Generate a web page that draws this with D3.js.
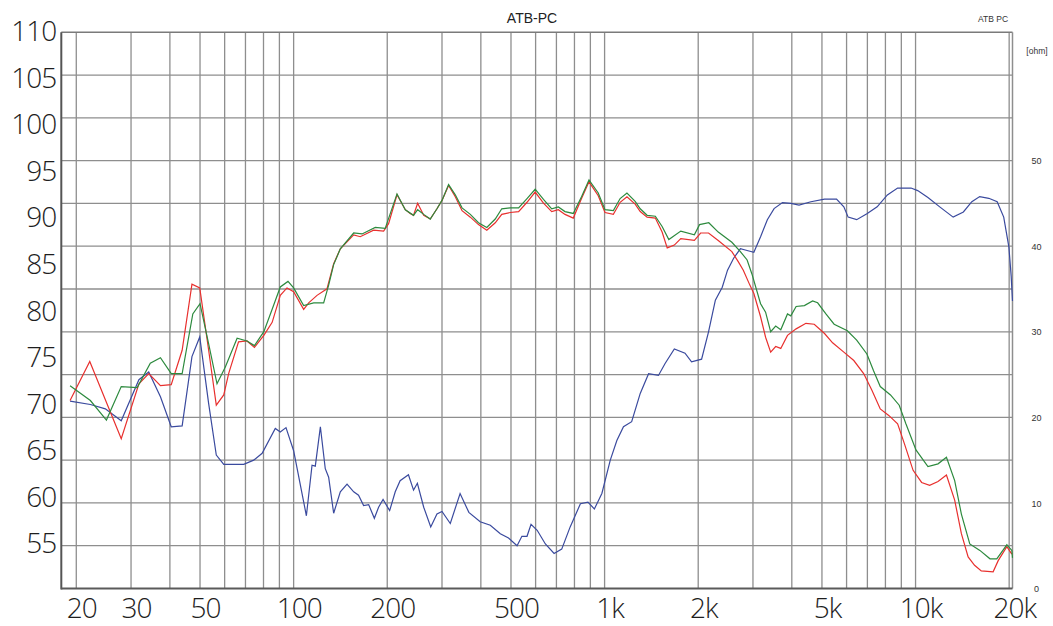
<!DOCTYPE html>
<html><head><meta charset="utf-8">
<script src="https://cdn.jsdelivr.net/npm/d3@7"></script>
<style>html,body{margin:0;padding:0;background:#fff;}svg{display:block;}</style>
</head><body>
<svg id="chart" width="1053" height="626"></svg>
<script>
// ---- data ----
const chartTitle = "ATB-PC";
const cornerLabel = "ATB PC";
const ohmUnit = "[ohm]";
const freqTickValues = [20, 30, 50, 100, 200, 500, 1000, 2000, 5000, 10000, 20000];
const freqTickLabels = ["20", "30", "50", "100", "200", "500", "1k", "2k", "5k", "10k", "20k"];
const freqGridValues = [20,30,40,50,60,70,80,90,100,200,300,400,500,600,700,800,900,1000,2000,3000,4000,5000,6000,7000,8000,9000,10000,20000];
const dbTickValues = [55, 60, 65, 70, 75, 80, 85, 90, 95, 100, 105, 110];
const ohmTickValues = [0, 10, 20, 30, 40, 50];
const ohmGridValues = [5,10,15,20,25,30,35,40,45,50,55,60];

const redFreq = [19.1,22.1,27.9,31.8,34.2,37.3,40.4,43.8,47.1,49.9,53.3,56.4,59.6,61.8,66.5,70.8,74.8,80.2,85.3,90.6,95.2,100,107.7,111.8,118.9,128,134.5,141.3,156,163.8,180.8,194.7,202,215,228.6,237,243,250.5,262,275,289,300,315,331,348,370,393,418,445,467,497,529,563,598,636,676,710,746,793,843,891,954,1003,1067,1122,1180,1254,1302,1370,1456,1531,1590,1676,1758,1944,2036,2159,2320,2566,2693,2793,2932,3020,3174,3294,3420,3550,3686,3874,4130,4441,4722,5097,5410,5880,6330,6810,7238,7700,8200,8756,9200,9820,10460,11100,11810,12570,13360,14040,14760,15480,16270,17760,18440,19660,20400];
const redDb = [70.3,74.5,66.2,72.1,73.2,71.9,72.0,75.7,82.8,82.4,75.7,69.8,70.9,73.2,76.6,76.7,76.0,77.3,78.7,81.6,82.4,82.0,80.1,80.8,81.6,82.3,85.0,86.6,88.1,87.9,88.6,88.5,89.3,92.4,90.8,90.4,90.2,91.5,90.2,89.8,90.9,91.8,93.4,92.2,90.7,90.0,89.2,88.6,89.4,90.3,90.5,90.6,91.6,92.7,91.5,90.6,90.8,90.3,89.9,92.0,93.8,92.3,90.5,90.3,91.6,92.2,91.4,90.6,90.0,89.9,88.4,86.7,87.0,87.7,87.5,88.3,88.3,87.5,86.3,85.2,84.3,82.7,81.8,79.3,77.1,75.5,76.1,75.9,77.3,78.0,78.6,78.5,77.5,76.5,75.5,74.6,73.2,71.4,69.4,68.7,67.8,65.7,62.8,61.5,61.2,61.6,62.3,59.6,56.0,53.5,52.6,52.0,51.9,53.1,54.6,53.8];

const greenFreq = [19.1,22.2,25,27.9,31.4,34.6,37.3,40.4,43.8,47.4,50,53.3,56.7,60.3,65.8,70.8,74.8,80.2,85.3,90.6,95.9,100,107.7,116,124.9,129.6,134.5,141.3,156,166,183,197,215,228.6,243,250.5,262,275,289,300,315,331,348,370,393,418,445,467,497,529,563,598,636,676,710,746,793,843,891,954,1003,1067,1122,1180,1254,1302,1370,1456,1531,1609,1758,1944,2020,2163,2320,2566,2733,2873,2977,3174,3294,3420,3550,3686,3874,3970,4130,4390,4666,4843,5149,5472,6036,6466,6975,7327,7700,8306,8860,9310,10030,10960,11810,12570,13360,14040,14940,16100,17350,18250,19660,20400,20500];
const greenDb = [71.9,70.3,68.2,71.8,71.7,74.3,74.9,73.2,73.2,79.6,80.7,76.4,72.1,73.9,77.0,76.7,76.2,77.7,80.1,82.5,83.1,82.4,80.5,80.8,80.8,82.7,84.9,86.6,88.3,88.2,88.9,88.8,92.5,90.8,90.2,90.8,90.3,89.8,90.9,91.8,93.5,92.4,91.0,90.3,89.4,88.9,89.8,90.9,91.0,91.0,92.0,93.0,91.9,90.9,91.1,90.6,90.4,92.2,94.0,92.6,90.8,90.7,92.0,92.6,91.7,90.9,90.2,90.1,89.0,87.6,88.5,88.1,89.2,89.4,88.4,87.3,86.3,85.4,83.9,80.7,79.8,77.7,78.3,77.9,79.6,79.4,80.4,80.5,81.0,80.8,79.6,78.5,77.8,76.8,75.3,73.5,71.8,70.9,69.8,67.8,65.0,63.2,63.5,64.2,61.7,58.1,54.9,54.2,53.3,53.3,54.8,54.2,53.4];

const blueFreq = [19.1,22.2,24.8,27.9,31.8,34.2,37.3,40.4,43.8,47.1,49.9,53.3,56.4,59.6,69.1,74.4,79.2,87.3,90.6,94.5,100,109.9,114.6,117.4,121.9,126.4,129.6,134.5,141.3,148.5,156,161.7,167.9,174.3,181.8,187.6,193.9,203.6,212.2,220,234,243,250,262,276,289,300,319,343,366,398,429,462,491,523,542,563,580,607,645,688,728,775,836,884,927,980,1043,1095,1150,1222,1302,1385,1490,1565,1676,1814,1904,2051,2159,2271,2390,2485,2600,2733,2873,3020,3174,3337,3508,3733,3970,4220,4608,5097,5570,5880,6070,6466,6975,7525,8117,8756,9670,10160,10960,11960,13210,14250,15170,16080,17200,18300,19210,19960,20300,20500];
const blueOhm = [21.9,21.5,21.0,19.6,24.4,25.3,22.4,18.9,19.0,27.1,29.4,21.6,15.6,14.5,14.5,15.0,15.8,18.7,18.3,18.8,16.1,8.5,14.4,14.3,18.9,14.0,13.0,8.8,11.3,12.2,11.3,10.9,9.7,9.8,8.2,9.5,10.4,9.1,11.3,12.6,13.3,11.5,12.3,9.5,7.2,8.7,9.0,7.6,11.1,8.9,7.8,7.4,6.4,5.9,5.0,6.1,6.1,7.5,6.8,5.2,4.1,4.6,7.2,9.9,10.1,9.3,11.1,15.0,17.3,18.9,19.5,22.8,25.1,24.9,26.3,28.0,27.5,26.5,26.8,30.0,33.7,35.2,37.2,38.6,39.7,39.5,39.3,41.1,43.1,44.4,45.1,45.0,44.8,45.2,45.5,45.5,44.6,43.4,43.1,43.8,44.6,46.0,46.8,46.8,46.5,45.7,44.6,43.4,44.0,45.2,45.8,45.6,45.2,43.4,39.9,36.5,33.6];

// ---- layout ----
const svg = d3.select("#chart");
const pLeft = 61.3, pRight = 1012.5, pTop = 32.3, pBottom = 588.5;

const x = d3.scaleLog().domain([17.9, 20500]).range([pLeft, pRight]);
const yDb = d3.scaleLinear().domain([50, 110]).range([589.5, 31]);
const yOhm = d3.scaleLinear().domain([0, 65]).range([pBottom, pTop]);

svg.append("rect").attr("width", 1053).attr("height", 626).attr("fill", "#fff");

// grid (horizontal on impedance scale)
const grid = svg.append("g");
grid.selectAll("line.h").data(ohmGridValues).join("line").attr("class", "h")
  .attr("x1", pLeft).attr("x2", pRight)
  .attr("y1", d => yOhm(d)).attr("y2", d => yOhm(d))
  .attr("stroke", "#8e8e8e").attr("stroke-width", 1.3);
grid.selectAll("line.v").data(freqGridValues).join("line").attr("class", "v")
  .attr("x1", d => x(d)).attr("x2", d => x(d))
  .attr("y1", pTop).attr("y2", pBottom)
  .attr("stroke", "#8e8e8e").attr("stroke-width", 1.3);

// frame
svg.append("line").attr("x1", pLeft).attr("x2", pRight).attr("y1", pTop).attr("y2", pTop).attr("stroke", "#7a7a7a").attr("stroke-width", 1.5);
svg.append("line").attr("x1", pRight).attr("x2", pRight).attr("y1", pTop).attr("y2", pBottom).attr("stroke", "#8e8e8e").attr("stroke-width", 1.5);
svg.append("line").attr("x1", pLeft).attr("x2", pLeft).attr("y1", pTop).attr("y2", pBottom + 1).attr("stroke", "#555").attr("stroke-width", 2);
svg.append("line").attr("x1", pLeft).attr("x2", pRight).attr("y1", pBottom).attr("y2", pBottom).attr("stroke", "#5a5a5a").attr("stroke-width", 2);

// curves
svg.append("clipPath").attr("id", "plotclip").append("rect")
  .attr("x", pLeft).attr("y", pTop).attr("width", pRight - pLeft + 1).attr("height", pBottom - pTop);
const plot = svg.append("g").attr("clip-path", "url(#plotclip)");

const lineDb = d3.line().x(d => x(d[0])).y(d => yDb(d[1]));
const lineOhm = d3.line().x(d => x(d[0])).y(d => yOhm(d[1]));

plot.append("path").datum(blueFreq.map((f, i) => [f, blueOhm[i]]))
  .attr("d", lineOhm).attr("fill", "none").attr("stroke", "#3a4a9e").attr("stroke-width", 1.2);
plot.append("path").datum(redFreq.map((f, i) => [f, redDb[i]]))
  .attr("d", lineDb).attr("fill", "none").attr("stroke", "#e8302e").attr("stroke-width", 1.2);
plot.append("path").datum(greenFreq.map((f, i) => [f, greenDb[i]]))
  .attr("d", lineDb).attr("fill", "none").attr("stroke", "#2d8a3e").attr("stroke-width", 1.2);

// left axis (dB)
const bigFont = "'Open Sans', 'DejaVu Sans', sans-serif";
const leftAxis = svg.append("g").attr("transform", `translate(${pLeft},0)`)
  .call(d3.axisLeft(yDb).tickValues(dbTickValues).tickSize(0).tickPadding(5));
leftAxis.select(".domain").remove();
leftAxis.selectAll("text").attr("font-family", bigFont).attr("font-size", 28).attr("font-weight", 300)
  .attr("fill", "#1e1e1e").attr("dy", "0.35em").style("letter-spacing", "-1px");

// bottom axis (frequency)
const bottomAxis = svg.append("g").attr("transform", `translate(0,${pBottom})`)
  .call(d3.axisBottom(x).tickValues(freqTickValues).tickFormat((d, i) => freqTickLabels[i]).tickSize(0).tickPadding(4));
bottomAxis.select(".domain").remove();
bottomAxis.selectAll("text").attr("font-family", bigFont).attr("font-size", 28).attr("font-weight", 300)
  .attr("fill", "#1e1e1e").attr("dx", 5).attr("dy", "0.9em").style("letter-spacing", "-1px");

// right axis (ohm)
const rightAxis = svg.append("g").attr("transform", `translate(${pRight},0)`)
  .call(d3.axisRight(yOhm).tickValues(ohmTickValues).tickSize(0).tickPadding(24));
rightAxis.select(".domain").remove();
rightAxis.selectAll("text").attr("font-family", "'Liberation Sans', Arial, sans-serif").attr("font-size", 9)
  .attr("fill", "#333").attr("text-anchor", "middle").attr("dy", "0.35em");

// texts
svg.append("text").attr("x", 532).attr("y", 23).attr("text-anchor", "middle")
  .attr("font-family", "'Liberation Sans', Arial, sans-serif").attr("font-size", 14).attr("fill", "#222").text(chartTitle);
svg.append("text").attr("x", 993).attr("y", 22).attr("text-anchor", "middle")
  .attr("font-family", "'Liberation Sans', Arial, sans-serif").attr("font-size", 8.5).attr("fill", "#333").text(cornerLabel);
svg.append("text").attr("x", 1037).attr("y", 54).attr("text-anchor", "middle")
  .attr("font-family", "'Liberation Sans', Arial, sans-serif").attr("font-size", 8.5).attr("fill", "#333").text(ohmUnit);
</script>
</body></html>
